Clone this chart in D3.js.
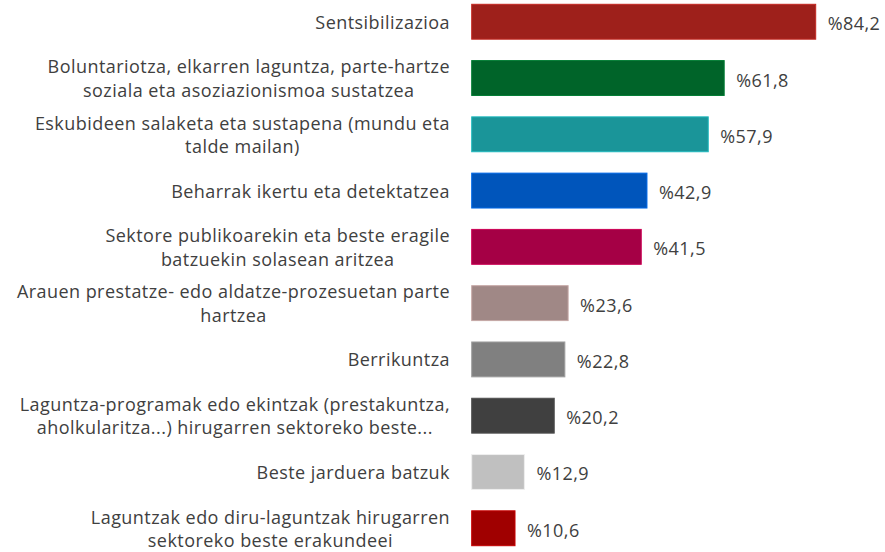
<!DOCTYPE html>
<html>
<head>
<meta charset="utf-8">
<script src="https://cdn.jsdelivr.net/npm/d3@7"></script>
<style>
  body { margin: 0; background: #fff; }
  text { font-family: "Open Sans", Lato, sans-serif; fill: #404040; letter-spacing: 0.45px; }
</style>
</head>
<body>
<div id="chart"></div>
<script>
// categories (each entry is the lines of one label)
const categories = [
  ["Sentsibilizazioa"],
  ["Boluntariotza, elkarren laguntza, parte-hartze", "soziala eta asoziazionismoa sustatzea"],
  ["Eskubideen salaketa eta sustapena (mundu eta", "talde mailan)"],
  ["Beharrak ikertu eta detektatzea"],
  ["Sektore publikoarekin eta beste eragile", "batzuekin solasean aritzea"],
  ["Arauen prestatze- edo aldatze-prozesuetan parte", "hartzea"],
  ["Berrikuntza"],
  ["Laguntza-programak edo ekintzak (prestakuntza,", "aholkularitza...) hirugarren sektoreko beste..."],
  ["Beste jarduera batzuk"],
  ["Laguntzak edo diru-laguntzak hirugarren", "sektoreko beste erakundeei"]
];
const values = [84.2, 61.8, 57.9, 42.9, 41.5, 23.6, 22.8, 20.2, 12.9, 10.6];
const colors = ["#9e201b", "#006429", "#1a9599", "#0055bb", "#a50045",
                "#a08886", "#808080", "#404040", "#c0c0c0", "#a00000"];

const width = 885, height = 552;
const labelRight = 450;
const fontSize = 18, lineH = 23.5;

const svg = d3.select("#chart").append("svg")
    .attr("width", width).attr("height", height);

const data = values.map((v, i) => ({lines: categories[i], value: v, color: colors[i], i}));

const xScale = d3.scaleLinear().domain([0, 84.2]).range([471.7, 815.7]);
const yScale = d3.scaleBand()
    .domain(d3.range(values.length))
    .range([-6.4, 556.4])
    .paddingInner(0.38).paddingOuter(0.19);

// bars
svg.append("g")
  .selectAll("rect")
  .data(data)
  .join("rect")
    .attr("x", xScale(0))
    .attr("y", d => yScale(d.i))
    .attr("width", d => xScale(d.value) - xScale(0))
    .attr("height", yScale.bandwidth())
    .attr("fill", d => d.color)
    .attr("stroke", d => d3.color(d.color).brighter(0.6))
    .attr("stroke-width", 1);

// value labels
svg.append("g")
  .selectAll("text")
  .data(data)
  .join("text")
    .attr("x", d => xScale(d.value) + 12)
    .attr("y", d => yScale(d.i) + yScale.bandwidth() / 2 + 1.5)
    .attr("dominant-baseline", "central")
    .style("font-size", fontSize + "px")
    .text(d => "%" + d.value.toFixed(1).replace(".", ","));

// category labels: lines centred against each other, block right-aligned
const labels = svg.append("g")
  .selectAll("g")
  .data(data)
  .join("g");

labels.each(function(d) {
  const g = d3.select(this);
  const cy = yScale(d.i) + yScale.bandwidth() / 2;
  const n = d.lines.length;
  const texts = g.selectAll("text")
    .data(d.lines)
    .join("text")
      .attr("y", (l, k) => cy + (k - (n - 1) / 2) * lineH)
      .attr("dominant-baseline", "central")
      .attr("text-anchor", "middle")
      .style("font-size", fontSize + "px")
      .text(l => l);
  const maxW = d3.max(texts.nodes(), t => t.getComputedTextLength());
  texts.attr("x", labelRight - maxW / 2);
});
</script>
</body>
</html>
